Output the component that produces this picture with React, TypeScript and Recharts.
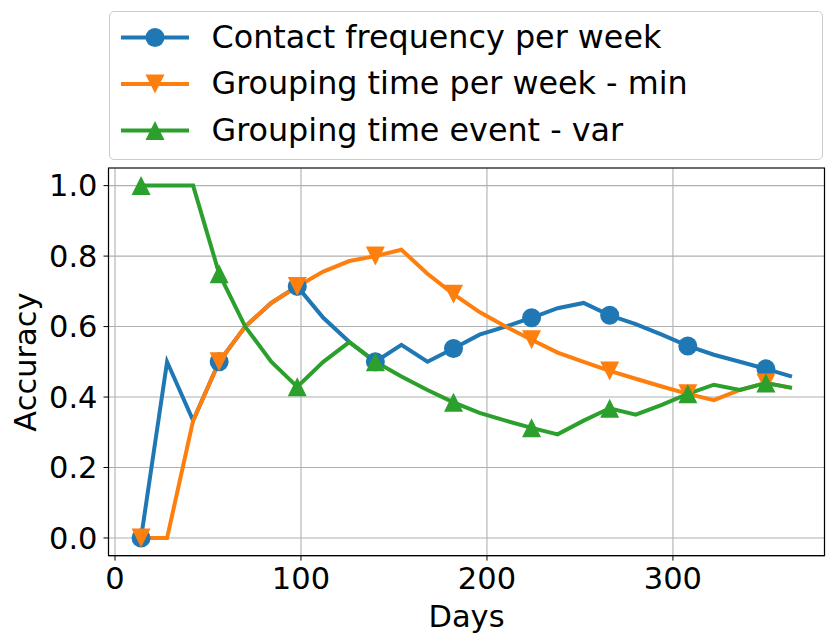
import { LineChart, Line, XAxis, YAxis, CartesianGrid, Legend, ReferenceArea } from 'recharts';

const DAYS = [14, 28, 42, 56, 70, 84, 98, 112, 126, 140, 154, 168, 182, 196, 210, 224, 238, 252, 266, 280, 294, 308, 322, 336, 350, 364];

const CONTACT_FREQ = [0, 0.5, 0.333, 0.5, 0.6, 0.667, 0.714, 0.625, 0.556, 0.5, 0.548, 0.5, 0.538, 0.577, 0.6, 0.625, 0.652, 0.667, 0.632, 0.607, 0.577, 0.545, 0.52, 0.5, 0.48, 0.458];
const GROUPING_WEEK = [0, 0, 0.333, 0.5, 0.6, 0.667, 0.714, 0.756, 0.786, 0.8, 0.818, 0.75, 0.692, 0.641, 0.6, 0.5625, 0.526, 0.5, 0.474, 0.452, 0.43, 0.409, 0.391, 0.42, 0.44, 0.426];
const GROUPING_EVENT = [1, 1, 1, 0.75, 0.6, 0.5, 0.429, 0.5, 0.556, 0.5, 0.458, 0.42, 0.385, 0.355, 0.333, 0.3125, 0.294, 0.333, 0.368, 0.35, 0.378, 0.409, 0.435, 0.42, 0.44, 0.426];

const X_TICKS = [0, 100, 200, 300];
const Y_TICKS = [0, 0.2, 0.4, 0.6, 0.8, 1.0];

const SERIES = [
  { key: 'contact', name: 'Contact frequency per week', color: '#1f77b4', marker: 'circle' },
  { key: 'groupWeek', name: 'Grouping time per week - min', color: '#ff7f0e', marker: 'down' },
  { key: 'groupEvent', name: 'Grouping time event - var', color: '#2ca02c', marker: 'up' },
];

const data = DAYS.map((day, i) => ({
  day,
  contact: CONTACT_FREQ[i],
  groupWeek: GROUPING_WEEK[i],
  groupEvent: GROUPING_EVENT[i],
}));

const FONT = '"DejaVu Sans", sans-serif';
const FS = 30.5;
const LEGEND_FS = 31.8;
const MS = 19;

function Marker({ kind, color, cx, cy }: { kind: string; color: string; cx: number; cy: number }) {
  const h = MS / 2;
  if (kind === 'circle') return <circle cx={cx} cy={cy} r={h} fill={color} />;
  if (kind === 'down')
    return <polygon points={`${cx - h},${cy - h} ${cx + h},${cy - h} ${cx},${cy + h}`} fill={color} />;
  return <polygon points={`${cx - h},${cy + h} ${cx + h},${cy + h} ${cx},${cy - h}`} fill={color} />;
}

// matplotlib markevery=3
const everyThird = (kind: string, color: string) => (props: any) => {
  const { cx, cy, index } = props;
  if (index % 3 !== 0 || cx == null || cy == null) return <g key={`d-${index}`} />;
  return <Marker key={`d-${index}`} kind={kind} color={color} cx={cx} cy={cy} />;
};

function LegendBox() {
  return (
    <div
      style={{
        width: 714,
        height: 149,
        boxSizing: 'border-box',
        border: '1px solid #cccccc',
        borderRadius: 5,
        background: 'rgba(255,255,255,0.8)',
      }}
    >
      <svg width={712} height={147} style={{ display: 'block' }}>
        {SERIES.map((s, i) => {
          const cy = 25.5 + i * 46.5;
          return (
            <g key={s.key}>
              <line x1={11} x2={79} y1={cy} y2={cy} stroke={s.color} strokeWidth={4} />
              <Marker kind={s.marker} color={s.color} cx={45} cy={cy} />
              <text x={101.5} y={cy + 10} fontFamily={FONT} fontSize={LEGEND_FS} fill="#000">
                {s.name}
              </text>
            </g>
          );
        })}
      </svg>
    </div>
  );
}

export default function App() {
  return (
    <div style={{ position: 'absolute', left: 0, top: 0, width: 830, height: 644, background: '#fff' }}>
      <LineChart width={830} height={644} data={data} margin={{ top: 168, right: 5.5, bottom: 0, left: 0 }}>
        <CartesianGrid stroke="#b0b0b0" strokeWidth={1.1} />
        <XAxis
          dataKey="day"
          type="number"
          domain={[-3.5, 381.5]}
          ticks={X_TICKS}
          allowDataOverflow
          height={88.4}
          tickSize={5}
          tickMargin={7}
          stroke="#000"
          tick={{ fill: '#000', fontSize: FS, fontFamily: FONT }}
          label={{ value: 'Days', position: 'insideBottom', offset: 17, fill: '#000', fontSize: FS, fontFamily: FONT }}
        />
        <YAxis
          type="number"
          domain={[-0.05, 1.05]}
          ticks={Y_TICKS}
          allowDataOverflow
          width={108.5}
          tickSize={5}
          tickMargin={6}
          stroke="#000"
          tickFormatter={(v: number) => v.toFixed(1)}
          tick={{ fill: '#000', fontSize: FS, fontFamily: FONT }}
          label={{
            value: 'Accuracy',
            position: 'insideLeft',
            content: () => (
              <text
                x={35.5}
                y={362}
                transform="rotate(-90, 35.5, 362)"
                textAnchor="middle"
                fontFamily={FONT}
                fontSize={FS}
                fill="#000"
              >
                Accuracy
              </text>
            ),
          }}
        />
        <ReferenceArea x1={-3.5} x2={381.5} y1={-0.05} y2={1.05} fill="none" stroke="#000" strokeWidth={1.2} ifOverflow="visible" />
        {SERIES.map((s) => (
          <Line
            key={s.key}
            type="linear"
            dataKey={s.key}
            name={s.name}
            stroke={s.color}
            strokeWidth={4}
            dot={everyThird(s.marker, s.color)}
            activeDot={false}
            isAnimationActive={false}
          />
        ))}
        <Legend
          layout="horizontal"
          verticalAlign="middle"
          align="center"
          wrapperStyle={{ top: 11, left: 109, width: 714, height: 149 }}
          content={() => <LegendBox />}
        />
      </LineChart>
    </div>
  );
}
